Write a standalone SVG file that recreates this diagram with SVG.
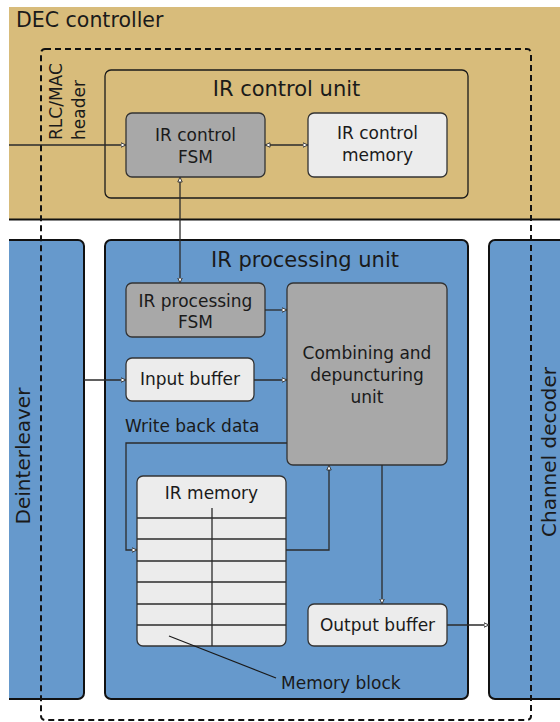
<svg xmlns="http://www.w3.org/2000/svg" width="560" height="722" viewBox="0 0 560 722">
  <style>
    text { font-family: "DejaVu Sans", "Liberation Sans", sans-serif; fill: #1a1a1a; }
    .title { font-size: 21px; text-anchor: middle; }
    .lbl { font-size: 17px; text-anchor: middle; }
    .side { font-size: 20px; text-anchor: middle; }
    .free { font-size: 17px; }
    .block { fill: #6699cc; stroke: #111; stroke-width: 2; }
    .dark { fill: #a8a8a8; stroke: #333; stroke-width: 1.3; }
    .light { fill: #ececec; stroke: #333; stroke-width: 1.3; }
    .wire { fill: none; stroke: #2b2b2b; stroke-width: 1.3; }
    .grid { stroke: #2b2b2b; stroke-width: 1.3; }
  </style>
  <defs>
    <marker id="tip" viewBox="0 0 6 6" refX="5.5" refY="3" markerWidth="6" markerHeight="6" markerUnits="userSpaceOnUse" orient="auto-start-reverse">
      <path d="M0.5,0.8 L5.5,3 L0.5,5.2 Z" fill="#ffffff" stroke="#2b2b2b" stroke-width="0.9"/>
    </marker>
  </defs>

  <!-- DEC controller band -->
  <g id="dec-controller">
    <rect x="9" y="7" width="551" height="212" fill="#d8bc7b"/>
    <line x1="9" y1="219.5" x2="560" y2="219.5" stroke="#111" stroke-width="2"/>
    <text x="16" y="27" font-size="20.5">DEC controller</text>
  </g>

  <!-- IR control unit -->
  <g id="ir-control-unit">
    <rect x="105" y="70" width="363" height="128" rx="6" fill="none" stroke="#1a1a1a" stroke-width="1.3"/>
    <text class="title" x="286.5" y="96">IR control unit</text>
  </g>
  <g id="ir-control-fsm">
    <rect class="dark" x="126" y="113" width="139" height="64" rx="6"/>
    <text class="lbl" x="195.5" y="141">IR control</text>
    <text class="lbl" x="195.5" y="163">FSM</text>
  </g>
  <g id="ir-control-memory">
    <rect class="light" x="308" y="113" width="139" height="64" rx="6"/>
    <text class="lbl" x="377.5" y="139">IR control</text>
    <text class="lbl" x="377.5" y="161">memory</text>
  </g>
  <g id="rlc-mac-header">
    <text class="free" transform="translate(62,140) rotate(-90)">RLC/MAC</text>
    <text class="free" transform="translate(85,140) rotate(-90)">header</text>
  </g>

  <!-- Deinterleaver -->
  <g id="deinterleaver">
    <path class="block" d="M9,240 H78 A6,6 0 0 1 84,246 V693 A6,6 0 0 1 78,699 H9"/>
    <text class="side" transform="translate(30,456) rotate(-90)">Deinterleaver</text>
  </g>

  <!-- Channel decoder -->
  <g id="channel-decoder">
    <path class="block" d="M562,240 H495 A6,6 0 0 0 489,246 V693 A6,6 0 0 0 495,699 H562"/>
    <text class="side" transform="translate(555.5,452) rotate(-90)">Channel decoder</text>
  </g>

  <!-- IR processing unit -->
  <g id="ir-processing-unit">
    <rect class="block" x="105" y="240" width="363" height="459" rx="6"/>
    <text class="title" x="305" y="267">IR processing unit</text>
  </g>
  <g id="ir-processing-fsm">
    <rect class="dark" x="126" y="283" width="139" height="54" rx="6"/>
    <text class="lbl" x="195.5" y="306.5">IR processing</text>
    <text class="lbl" x="195.5" y="328">FSM</text>
  </g>
  <g id="input-buffer">
    <rect class="light" x="126" y="358" width="128" height="43" rx="6"/>
    <text class="lbl" x="190" y="385">Input buffer</text>
  </g>
  <g id="combining-unit">
    <rect class="dark" x="287" y="283" width="160" height="182" rx="6"/>
    <text class="lbl" x="367" y="359">Combining and</text>
    <text class="lbl" x="367" y="381">depuncturing</text>
    <text class="lbl" x="367" y="403">unit</text>
  </g>
  <g id="ir-memory">
    <rect class="light" x="137" y="476" width="149" height="170" rx="6"/>
    <text class="lbl" x="211.5" y="499">IR memory</text>
    <line class="grid" x1="212" y1="508" x2="212" y2="646" stroke="#555"/>
    <line class="grid" x1="137" y1="518" x2="286" y2="518"/>
    <line class="grid" x1="137" y1="539" x2="286" y2="539" stroke="#444"/>
    <line class="grid" x1="137" y1="561" x2="286" y2="561" stroke="#444"/>
    <line class="grid" x1="137" y1="582" x2="286" y2="582"/>
    <line class="grid" x1="137" y1="604" x2="286" y2="604" stroke="#444"/>
    <line class="grid" x1="137" y1="625" x2="286" y2="625" stroke="#444"/>
  </g>
  <g id="output-buffer">
    <rect class="light" x="308" y="604" width="139" height="42" rx="6"/>
    <text class="lbl" x="377.5" y="631">Output buffer</text>
  </g>
  <g id="write-back-label">
    <text class="free" x="125" y="432">Write back data</text>
  </g>
  <g id="memory-block-label">
    <line x1="169" y1="636" x2="276" y2="678" stroke="#1a1a1a" stroke-width="1.2"/>
    <text class="free" x="281" y="689">Memory block</text>
  </g>

  <!-- connectors -->
  <g id="connectors">
    <path class="wire" d="M9,145 H126" marker-end="url(#tip)"/>
    <path class="wire" d="M265,145 H308" marker-start="url(#tip)" marker-end="url(#tip)"/>
    <path class="wire" d="M180,177 V283" marker-start="url(#tip)" marker-end="url(#tip)" stroke="#444"/>
    <path class="wire" d="M265,310 H287" marker-end="url(#tip)"/>
    <path class="wire" d="M84,380 H126" marker-end="url(#tip)"/>
    <path class="wire" d="M254,380 H287" marker-end="url(#tip)"/>
    <path class="wire" d="M287,443 H126 V550 H137" marker-end="url(#tip)"/>
    <path class="wire" d="M286,550 H329 V465" marker-end="url(#tip)"/>
    <path class="wire" d="M382,465 V604" marker-end="url(#tip)"/>
    <path class="wire" d="M447,625 H489" marker-end="url(#tip)"/>
  </g>

  <!-- DEC controller scope outline -->
  <g id="dec-scope">
    <rect x="41" y="49" width="490" height="671" rx="4" fill="none" stroke="#111" stroke-width="2" stroke-dasharray="6 4"/>
  </g>
</svg>
